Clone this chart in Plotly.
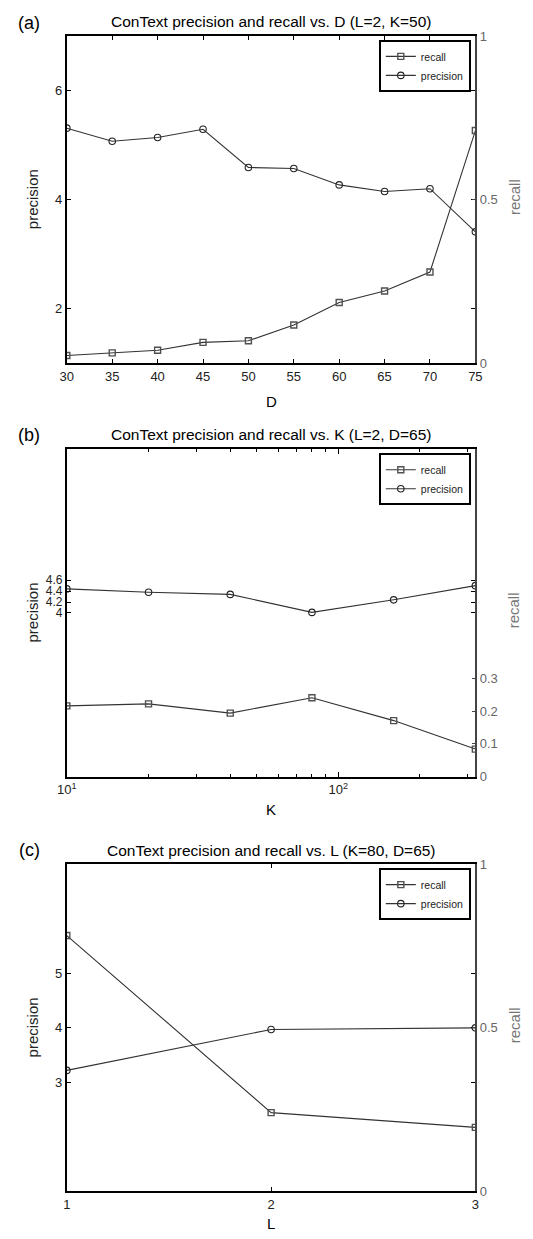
import plotly.graph_objects as go

# ---------------- data ----------------
D_vals = [30, 35, 40, 45, 50, 55, 60, 65, 70, 75]
prec_a = [5.31, 5.07, 5.14, 5.29, 4.59, 4.57, 4.27, 4.15, 4.20, 3.41]
rec_a = [0.024, 0.032, 0.040, 0.064, 0.069, 0.117, 0.186, 0.221, 0.279, 0.711]

K_vals = [10, 20, 40, 80, 160, 320]
prec_b = [4.44, 4.38, 4.34, 4.01, 4.24, 4.50]
rec_b = [0.216, 0.222, 0.194, 0.241, 0.171, 0.084]

L_vals = [1, 2, 3]
prec_c = [3.22, 3.97, 4.00]
rec_c = [0.782, 0.241, 0.196]

titles = [
    "ConText precision and recall vs. D (L=2, K=50)",
    "ConText precision and recall vs. K (L=2, D=65)",
    "ConText precision and recall vs. L (K=80, D=65)",
]
panel_labels = ["(a)", "(b)", "(c)"]
x_titles = ["D", "K", "L"]

D_ticks = [30, 35, 40, 45, 50, 55, 60, 65, 70, 75]
K_tickvals = [10, 100]
K_ticktext = ["10<sup>1</sup>", "10<sup>2</sup>"]
K_minor = [20, 30, 40, 50, 60, 70, 80, 90, 200, 300]
L_ticks = [1, 2, 3]
prec_ticks = [[2, 4, 6], [4, 4.2, 4.4, 4.6], [3, 4, 5]]
rec_ticks = [[0, 0.5, 1], [0, 0.1, 0.2, 0.3], [0, 0.5, 1]]

# ---------------- layout helpers ----------------
W, H = 533, 1239
FONT = "Liberation Sans, Arial, Helvetica, sans-serif"
LINE_C = "#333333"
MARK_C = "#505050"

def fx(px):
    return px / W

def fy(py):
    return 1 - py / H

left_px, right_px = 58.7, 480.7
panels = [(29.3, 360.7), (447.7, 779.0), (867.7, 1199.0)]
title_y = [15, 433, 854]
label_y = [16, 433, 853]
xtitle_y = [399.5, 812, 1231]

fig = go.Figure()

xs = [D_vals, K_vals, L_vals]
precs = [prec_a, prec_b, prec_c]
recs = [rec_a, rec_b, rec_c]

for i in range(3):
    xa = "x" if i == 0 else f"x{i+1}"
    ya_p = "y" if i == 0 else f"y{2*i+1}"
    ya_r = f"y{2*i+2}"
    leg = "legend" if i == 0 else f"legend{i+1}"
    fig.add_trace(go.Scatter(
        x=xs[i], y=recs[i], name="recall", xaxis=xa, yaxis=ya_r, legend=leg,
        mode="lines+markers",
        line=dict(color=LINE_C, width=1.1),
        marker=dict(symbol="square-open", size=6, color=MARK_C, line=dict(width=1.4, color=MARK_C)),
    ))
    fig.add_trace(go.Scatter(
        x=xs[i], y=precs[i], name="precision", xaxis=xa, yaxis=ya_p, legend=leg,
        mode="lines+markers",
        line=dict(color=LINE_C, width=1.1),
        marker=dict(symbol="circle-open", size=6.5, color="#222222", line=dict(width=1.1, color="#222222")),
    ))

layout = dict(
    width=W, height=H,
    margin=dict(l=0, r=0, t=0, b=0),
    paper_bgcolor="white", plot_bgcolor="white",
    font=dict(family=FONT, color="#222222"),
    showlegend=True,
)

xaxis_common = dict(
    showgrid=False, zeroline=False, showline=True, linecolor="black", linewidth=2,
    mirror="ticks", ticks="inside", ticklen=4, tickcolor="black", tickwidth=1,
    tickfont=dict(size=13, color="#222222", family=FONT),
    domain=[fx(left_px), fx(right_px)],
)

annotations = []
for i in range(3):
    top, bot = panels[i]
    dom = [fy(bot), fy(top)]
    xkey = "xaxis" if i == 0 else f"xaxis{i+1}"
    ypkey = "yaxis" if i == 0 else f"yaxis{2*i+1}"
    yrkey = f"yaxis{2*i+2}"
    yp_name = "y" if i == 0 else f"y{2*i+1}"
    x_name = "x" if i == 0 else f"x{i+1}"

    xa = dict(xaxis_common)
    xa["anchor"] = yp_name
    if i == 0:
        xa.update(range=[30, 75], tickvals=D_ticks)
    elif i == 1:
        xa.update(type="log", range=[1, 2.50515], tickvals=K_tickvals, ticktext=K_ticktext,
                  ticklen=5,
                  minor=dict(ticks="inside", ticklen=3, tickcolor="black", tickvals=K_minor))
    else:
        xa.update(range=[1, 3], tickvals=L_ticks)
    layout[xkey] = xa

    layout[ypkey] = dict(
        domain=dom, anchor=x_name, range=[1, 7], tickvals=prec_ticks[i],
        showgrid=False, zeroline=False, showline=True, linecolor="black", linewidth=2,
        mirror="ticks", ticks="inside", ticklen=4, tickcolor="black", tickwidth=1,
        tickfont=dict(size=12 if i == 1 else 13, color="#222222", family=FONT),
    )
    layout[yrkey] = dict(
        overlaying=yp_name, side="right", anchor=x_name, range=[0, 1], tickvals=rec_ticks[i],
        showgrid=False, zeroline=False, showline=True, linecolor="#444444", linewidth=1.5,
        ticks="inside", ticklen=4, tickcolor="#444444", tickwidth=1,
        tickfont=dict(size=13, color="#666666", family=FONT),
    )

    legkey = "legend" if i == 0 else f"legend{i+1}"
    layout[legkey] = dict(
        x=fx(476), y=fy(top + 4), xanchor="right", yanchor="top",
        bgcolor="white", bordercolor="black", borderwidth=2,
        font=dict(size=10.5, family=FONT, color="#222222"),
        tracegroupgap=0,
    )

    mid = (top + bot) / 2
    annotations += [
        dict(text=panel_labels[i], x=fx(20), y=fy(label_y[i]), xref="paper", yref="paper",
             showarrow=False, xanchor="center", yanchor="middle",
             font=dict(size=18, family=FONT, color="black")),
        dict(text=titles[i], x=fx((left_px + right_px) / 2), y=fy(title_y[i]), xref="paper", yref="paper",
             showarrow=False, xanchor="center", yanchor="middle",
             font=dict(size=15.5, family=FONT, color="black")),
        dict(text=x_titles[i], x=fx(270), y=fy(xtitle_y[i]), xref="paper", yref="paper",
             showarrow=False, xanchor="center", yanchor="middle",
             font=dict(size=15, family=FONT, color="black")),
        dict(text="precision", x=fx(23.3), y=fy(mid), xref="paper", yref="paper",
             showarrow=False, xanchor="center", yanchor="middle", textangle=-90,
             font=dict(size=15, family=FONT, color="#222222")),
        dict(text="recall", x=fx(521), y=fy(mid - 3), xref="paper", yref="paper",
             showarrow=False, xanchor="center", yanchor="middle", textangle=-90,
             font=dict(size=15, family=FONT, color="#777777")),
    ]

layout["annotations"] = annotations
fig.update_layout(**layout)

fig.write_html("out.html",
               config={"displayModeBar": False},
               post_script="document.body.style.margin='0';document.body.style.overflow='hidden';")
